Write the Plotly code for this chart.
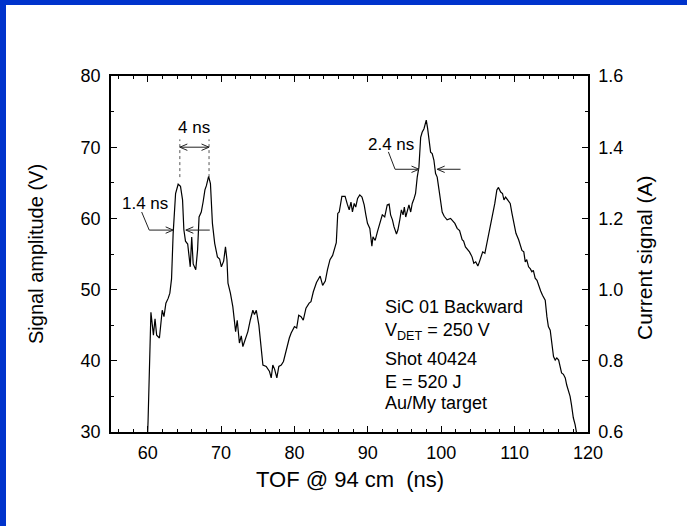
import plotly.graph_objects as go

# ---- data ----
tof_ns = [60.00, 60.05, 60.44, 60.78, 61.00, 61.22, 61.60, 61.98, 62.22, 62.48, 62.80, 63.02, 63.25, 63.47,
          63.80, 64.15, 64.47, 64.75, 64.93, 65.15, 65.45, 65.80, 66.00, 66.20, 66.55, 66.80, 67.00, 67.30,
          67.55, 67.80, 68.00, 68.30, 68.55, 68.82, 69.13, 69.50, 69.80, 70.04, 70.35, 70.60, 70.80, 70.94,
          71.27, 71.60, 71.98, 72.20, 72.50, 72.75, 72.97, 73.30, 73.65, 74.00, 74.33, 74.55, 74.80, 75.15,
          75.47, 75.70, 76.15, 76.60, 76.83, 77.05, 77.30, 77.60, 77.87, 78.20, 78.50, 78.77, 79.08, 79.30,
          79.55, 80.00, 80.30, 80.58, 80.90, 81.20, 81.57, 82.00, 82.25, 82.57, 83.00, 83.30, 83.50, 83.84,
          84.20, 84.50, 84.84, 85.20, 85.50, 85.70, 85.90, 86.10, 86.46, 86.90, 87.20, 87.46, 87.70, 87.90,
          88.14, 88.35, 88.60, 88.90, 89.20, 89.50, 89.73, 89.95, 90.27, 90.55, 90.70, 91.00, 91.30, 91.60,
          91.97, 92.30, 92.64, 92.90, 93.10, 93.35, 93.57, 93.90, 94.10, 94.35, 94.57, 94.80, 94.97, 95.16,
          95.40, 95.60, 95.84, 96.05, 96.30, 96.50, 96.73, 96.96, 97.20, 97.40, 97.65, 97.96, 98.15, 98.30,
          98.55, 98.77, 99.00, 99.23, 99.45, 99.70, 99.90, 100.13, 100.40, 100.80, 101.27, 101.55, 101.86,
          102.17, 102.50, 102.85, 103.05, 103.30, 103.55, 103.85, 104.20, 104.44, 104.70, 104.99, 105.20,
          105.44, 105.65, 105.95, 106.30, 106.60, 106.98, 107.30, 107.58, 107.80, 108.10, 108.35, 108.55,
          108.77, 109.05, 109.40, 109.64, 109.87, 110.18, 110.55, 110.80, 111.00, 111.25, 111.45, 111.65,
          111.90, 112.15, 112.35, 112.55, 112.80, 113.05, 113.36, 113.55, 113.80, 114.17, 114.40, 114.60,
          114.85, 115.05, 115.30, 115.53, 115.75, 116.00, 116.20, 116.40, 116.65, 116.90, 117.10, 117.33,
          117.56, 117.75, 117.90, 118.00, 118.25, 118.50]
signal_v = [30.0, 31.5, 46.8, 43.6, 45.9, 43.6, 43.2, 47.1, 46.2, 48.1, 48.8, 49.5, 51.5, 57.9,
            63.5, 64.8, 64.5, 62.6, 58.4, 56.8, 56.4, 53.2, 57.4, 53.6, 52.8, 55.6, 60.2, 60.9,
            62.3, 64.0, 64.6, 65.9, 64.9, 59.3, 56.5, 54.6, 54.3, 53.2, 54.0, 56.0, 54.2, 50.9,
            49.5, 47.6, 44.1, 45.7, 42.5, 43.5, 42.0, 42.9, 44.1, 45.8, 47.1, 46.5, 47.1, 45.0,
            42.0, 39.4, 39.2, 38.5, 37.6, 39.4, 38.8, 37.6, 39.2, 39.4, 39.9, 41.1, 42.2, 43.2,
            43.9, 44.8, 44.6, 46.4, 46.2, 45.7, 47.4, 48.1, 48.3, 49.7, 51.0, 51.6, 51.9, 50.6,
            51.2, 52.8, 54.2, 54.8, 56.0, 56.6, 60.7, 60.9, 63.1, 63.1, 62.0, 61.2, 62.3, 60.9,
            62.1, 61.6, 62.8, 63.3, 63.0, 61.9, 60.5, 59.3, 58.6, 56.1, 57.4, 56.9, 58.1, 59.1,
            60.5, 60.2, 61.9, 62.0, 60.5, 59.8, 58.8, 57.8, 58.4, 59.8, 61.2, 60.5, 61.6, 60.2,
            61.0, 61.9, 60.9, 62.1, 62.8, 63.5, 65.8, 67.2, 71.4, 72.1, 72.6, 73.8, 72.6, 71.0,
            69.3, 69.1, 68.2, 66.3, 65.8, 64.0, 62.1, 60.9, 60.3, 59.8, 60.0, 59.6, 59.3,
            58.6, 58.3, 57.0, 56.8, 56.0, 55.7, 55.3, 54.6, 53.7, 53.9, 53.3, 53.9,
            54.85, 55.3, 55.1, 57.0, 58.1, 60.5, 62.1, 64.0, 64.35, 63.7, 63.5, 62.6,
            63.0, 62.6, 62.1, 60.7, 59.5, 57.9, 57.0, 56.1, 55.5, 55.3, 53.9, 54.2,
            53.2, 52.9, 52.5, 52.7, 51.6, 51.3, 50.2, 49.8, 49.2, 48.5, 46.2, 44.8,
            44.3, 42.8, 40.6, 40.1, 40.4, 40.1, 39.2, 38.3, 38.1, 37.6, 36.6, 35.7,
            35.0, 33.8, 32.65, 32.0, 31.0, 29.5]

x_range = [55, 120]
y_range = [30, 80]
y2_range = [0.6, 1.6]

info_lines = ["SiC 01 Backward", "V<sub>DET</sub> = 250 V", "Shot 40424", "E = 520 J", "Au/My target"]
info_y = [47.6, 44.1, 40.3, 37.05, 34.05]

# width markers
fwhm_labels = ["1.4 ns", "2.4 ns"]
fwhm_text_xy = [(59.62, 62.15), (93.13, 70.4)]
fwhm_leader = [((59.18, 60.9), (60.21, 58.36)), ((92.8, 69.34), (93.71, 66.9))]
fwhm_heads = [(63.47, 65.2, 68.46), (96.97, 99.45, 102.63)]
sep_label = "4 ns"
sep_x = [64.38, 68.36]

# ---- layout geometry (pixels) ----
W, H = 687, 526
L, R, T, B = 111, 99, 76, 94
PW, PH = W - L - R, H - T - B
FONT = "Arial, Liberation Sans, sans-serif"
XS = PW / (x_range[1] - x_range[0])   # px per ns
YS = PH / (y_range[1] - y_range[0])   # px per V


def px(xp):
    return (xp - L) / PW


def py(yp):
    return (H - B - yp) / PH


fig = go.Figure()
fig.add_trace(go.Scatter(x=tof_ns, y=signal_v, mode="lines",
                         line=dict(color="black", width=1.2), showlegend=False, hoverinfo="skip"))
fig.add_trace(go.Scatter(x=[], y=[], yaxis="y2", showlegend=False))

axis_common = dict(showline=True, linecolor="black", linewidth=1.5, ticks="inside", ticklen=6,
                   tickwidth=1.2, tickcolor="black", showgrid=False, zeroline=False,
                   tickfont=dict(family=FONT, size=18, color="black"))

fig.update_layout(
    width=W, height=H,
    margin=dict(l=L, r=R, t=T, b=B),
    paper_bgcolor="white", plot_bgcolor="white",
    font=dict(family=FONT, color="black"),
    xaxis=dict(range=x_range, dtick=10, tick0=0, mirror="ticks",
               minor=dict(ticks="inside", ticklen=3.5, dtick=2, tickcolor="black", tickwidth=1),
               ticklabelstandoff=4, **axis_common),
    yaxis=dict(range=y_range, dtick=10, tick0=0,
               minor=dict(ticks="inside", ticklen=3.5, dtick=5, tickcolor="black", tickwidth=1),
               ticklabelstandoff=5, **axis_common),
    yaxis2=dict(range=y2_range, dtick=0.2, tick0=0, tickformat=".1f", overlaying="y", side="right",
                minor=dict(ticks="inside", ticklen=3.5, dtick=0.1, tickcolor="black", tickwidth=1),
                ticklabelstandoff=5, **axis_common),
)

# blue slide frame (top and left bands)
blue = "#0033cc"
fig.add_shape(type="rect", xref="paper", yref="paper", x0=px(0), x1=px(6), y0=py(H), y1=py(0),
              fillcolor=blue, line=dict(width=0), layer="above")
fig.add_shape(type="rect", xref="paper", yref="paper", x0=px(0), x1=px(W), y0=py(5), y1=py(0),
              fillcolor=blue, line=dict(width=0), layer="above")

# axis titles
fig.add_annotation(text="TOF @ 94 cm&nbsp;&nbsp;(ns)", xref="paper", yref="paper", x=px(350), y=py(480),
                   showarrow=False, font=dict(size=22, family=FONT), xanchor="center", yanchor="middle")
fig.add_annotation(text="Signal amplitude (V)", xref="paper", yref="paper", x=px(36), y=py(254),
                   showarrow=False, textangle=-90, font=dict(size=20, family=FONT),
                   xanchor="center", yanchor="middle")
fig.add_annotation(text="Current signal (A)", xref="paper", yref="paper", x=px(644), y=py(258),
                   showarrow=False, textangle=-90, font=dict(size=21, family=FONT),
                   xanchor="center", yanchor="middle")

# info text block
for txt, yy in zip(info_lines, info_y):
    fig.add_annotation(text=txt, x=92.0, y=yy, xref="x", yref="y", showarrow=False,
                       xanchor="left", yanchor="middle", font=dict(size=18, family=FONT))

ac = "#222222"
ann_font = dict(size=17, family=FONT)
HL, HH = 7.5 / XS, 3.2 / YS   # arrow head length / half height in data units


def line(x0, y0, x1, y1, dash=None, color=ac):
    fig.add_shape(type="line", x0=x0, y0=y0, x1=x1, y1=y1, xref="x", yref="y",
                  line=dict(color=color, width=1, dash=dash))


def head(xt, yt, direction):
    # open V arrow head with its tip at (xt, yt); direction +1 points right, -1 points left
    xb = xt - direction * HL
    fig.add_shape(type="path", xref="x", yref="y",
                  path=f"M {xb},{yt + HH} L {xt},{yt} L {xb},{yt - HH}",
                  line=dict(color=ac, width=1))


# 4 ns separation marker
for xv in sep_x:
    line(xv, 65.8, xv, 71.1, dash="dot", color="#555555")
line(sep_x[0], 70.0, sep_x[1], 70.0)
head(sep_x[0], 70.0, -1)
head(sep_x[1], 70.0, +1)
fig.add_annotation(text=sep_label, x=sum(sep_x) / 2, y=72.8, xref="x", yref="y", showarrow=False,
                   font=ann_font)

# FWHM markers
for lab, (tx, ty), (p0, p1), (hl, hr, tr) in zip(fwhm_labels, fwhm_text_xy, fwhm_leader, fwhm_heads):
    fig.add_annotation(text=lab, x=tx, y=ty, xref="x", yref="y", showarrow=False, font=ann_font)
    yy = p1[1]
    line(p0[0], p0[1], p1[0], p1[1])
    line(p1[0], yy, hl, yy)
    head(hl, yy, +1)
    line(tr, yy, hr, yy)
    head(hr, yy, -1)

fig.write_html("out.html", config={"displayModeBar": False},
               post_script="document.body.style.margin='0px';")
